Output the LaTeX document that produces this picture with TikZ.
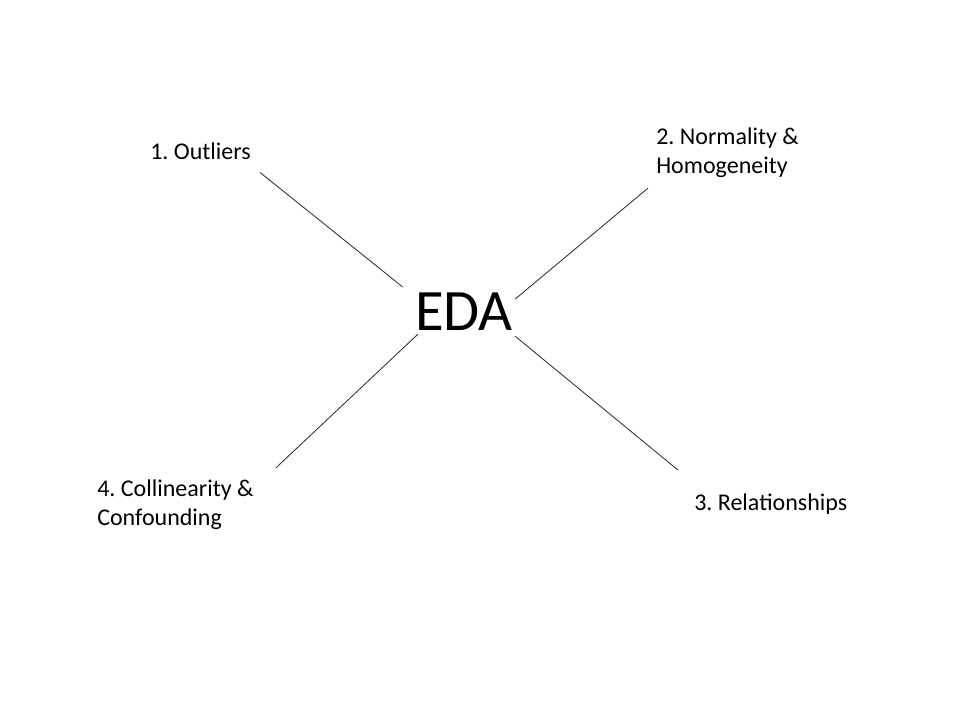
\documentclass[tikz,border=0pt]{standalone}
\usepackage{fontspec}
\setmainfont{Carlito}
\frenchspacing
\begin{document}
\begin{tikzpicture}[x=0.75pt, y=-0.75pt,
    topic/.style={font=\fontsize{18}{21.6}\selectfont, align=left, inner sep=0pt}, % the four labels
    hub/.style={font=\fontsize{44}{52}\selectfont, inner sep=0pt}, % the centre word
    spoke/.style={draw=black!85, line width=0.6pt}]
  \useasboundingbox (0,0) rectangle (960,720);
  \node[hub, anchor=base] (eda) at (464,330) {EDA};
  \node[topic, anchor=base west] (outl) at (150,160) {1. Outliers};
  \node[topic, anchor=north west] (norm) at (656,128) {2. Normality \&\\Homogeneity};
  \node[topic, anchor=base west] (rel) at (694,510) {3. Relationships};
  \node[topic, anchor=north west] (coll) at (97,480) {4. Collinearity \&\\Confounding};
  % spokes, nudged off the text a little
  \draw[spoke] ([shift={(-12,-5)}]eda.north west) -- ([shift={(9,12)}]outl.south east);
  \draw[spoke] ([shift={(2,7)}]eda.north east) -- ([shift={(-8,10)}]norm.south west);
  \draw[spoke] ([shift={(2,6)}]eda.south east) -- ([shift={(-16,-23)}]rel.north west);
  \draw[spoke] ([shift={(3,4)}]eda.south west) -- ([shift={(22,-12)}]coll.north east);
\end{tikzpicture}
\end{document}
